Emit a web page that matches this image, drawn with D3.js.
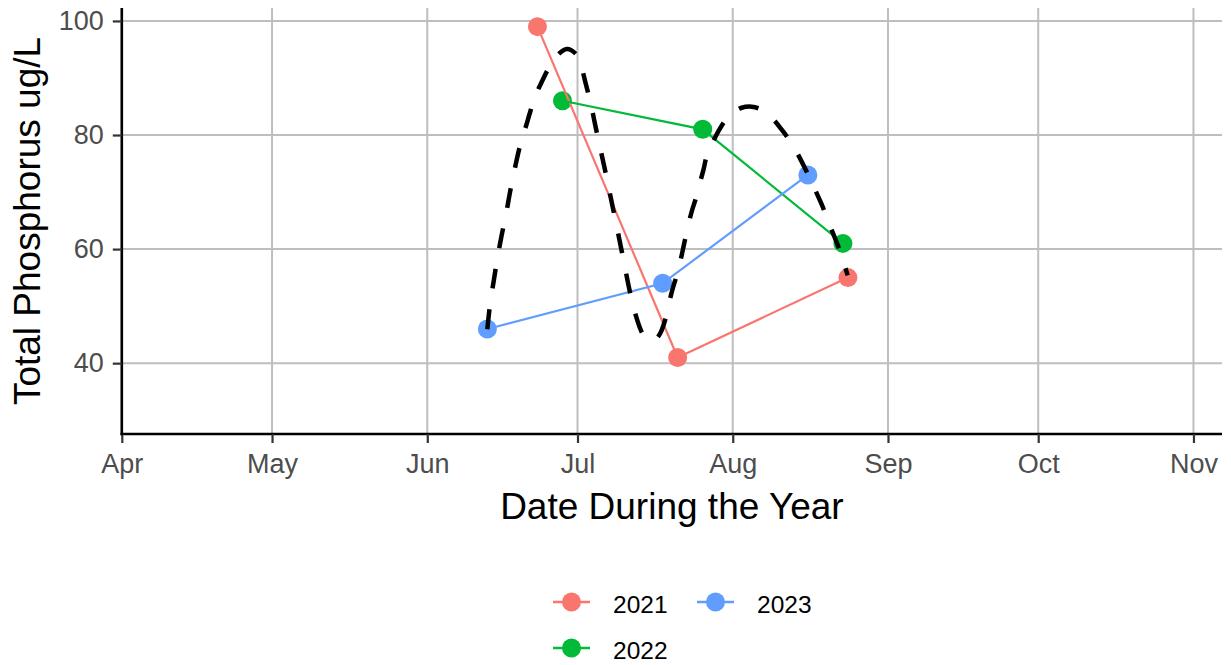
<!DOCTYPE html>
<html>
<head>
<meta charset="utf-8">
<script src="https://cdn.jsdelivr.net/npm/d3@7"></script>
<style>
  html, body { margin: 0; padding: 0; background: #fff; }
  svg { display: block; font-family: "Liberation Sans", Arial, sans-serif; }
</style>
</head>
<body>
<svg id="chart" width="1231" height="665"></svg>
<script>
// ---------------- data ----------------
const years = ["2021", "2022", "2023"];
const yearColors = ["#F8766D", "#00BA38", "#619CFF"];
const dates2021 = ["06-23", "07-21", "08-24"];
const values2021 = [99, 41, 55];
const dates2022 = ["06-28", "07-26", "08-23"];
const values2022 = [86, 81, 61];
const dates2023 = ["06-13", "07-18", "08-16"];
const values2023 = [46, 54, 73];

// fitted dashed curve (days after Apr 1, value)
const smoothDays = [72.99, 73.59, 74.29, 74.99, 75.89, 76.79, 77.58, 78.48, 79.48, 80.68,
  81.68, 82.67, 83.87, 85.27, 86.87, 88.86, 90.66, 91.66, 92.65, 93.65,
  94.65, 95.65, 96.65, 97.84, 99.04, 100.24, 101.44, 102.63, 103.83, 104.83,
  105.83, 106.83, 107.63, 108.42, 109.22, 110.02, 110.82, 111.62, 112.22, 113.01,
  113.81, 114.61, 115.41, 116.21, 116.81, 117.80, 119.20, 120.60, 122.00, 123.79,
  125.79, 127.78, 129.78, 131.78, 133.77, 135.77, 137.77, 139.76, 141.56, 143.35, 144.95];
const smoothValues = [45.95, 50.67, 54.52, 58.37, 62.57, 66.42, 70.26, 74.11, 77.96, 81.46,
  84.43, 87.06, 89.33, 91.78, 93.88, 95.10, 94.23, 92.30, 88.98, 85.48,
  81.28, 77.26, 73.24, 68.17, 63.09, 57.85, 52.60, 48.40, 45.43, 44.20,
  43.94, 44.38, 45.43, 47.35, 50.32, 53.12, 55.40, 58.19, 60.64, 63.79,
  66.59, 68.86, 71.49, 74.11, 76.39, 78.31, 80.76, 82.68, 83.91, 84.78,
  84.96, 84.43, 83.03, 80.93, 78.49, 75.34, 71.66, 67.82, 63.79, 59.77, 55.40];

const monthLabels = ["Apr", "May", "Jun", "Jul", "Aug", "Sep", "Oct", "Nov"];
const yTicks = [40, 60, 80, 100];
const yDomain = [27.58, 102.27];
const xStart = "04-01";
const xEndDays = 219.7;

const xTitle = "Date During the Year";
const yTitle = "Total Phosphorus ug/L";

// ---------------- helpers ----------------
const baseYear = 2001;
const parseMD = s => { const [m, d] = s.split("-").map(Number); return new Date(baseYear, m - 1, d); };
const start = parseMD(xStart);
const dayMs = 864e5;
const fromDays = d => new Date(start.getTime() + d * dayMs);

const series = [
  { year: years[0], color: yearColors[0], pts: dates2021.map((d, i) => ({ date: parseMD(d), v: values2021[i] })) },
  { year: years[1], color: yearColors[1], pts: dates2022.map((d, i) => ({ date: parseMD(d), v: values2022[i] })) },
  { year: years[2], color: yearColors[2], pts: dates2023.map((d, i) => ({ date: parseMD(d), v: values2023[i] })) }
];
const smooth = smoothDays.map((d, i) => ({ date: fromDays(d), v: smoothValues[i] }));

// ---------------- layout ----------------
const svg = d3.select("#chart");
const panel = { left: 121.8, right: 1222, top: 8, bottom: 434 };

const x = d3.scaleTime().domain([start, fromDays(xEndDays)]).range([panel.left, panel.right]);
const y = d3.scaleLinear().domain(yDomain).range([panel.bottom, panel.top]);

const monthTicks = monthLabels.map((m, i) => new Date(baseYear, 3 + i, 1));

// grid
const grid = svg.append("g");
grid.selectAll("line.vx").data(monthTicks).join("line")
  .attr("x1", d => x(d)).attr("x2", d => x(d))
  .attr("y1", panel.top).attr("y2", panel.bottom)
  .attr("stroke", "#BEBEBE").attr("stroke-width", 2);
grid.selectAll("line.hy").data(yTicks).join("line")
  .attr("x1", panel.left).attr("x2", panel.right)
  .attr("y1", d => y(d)).attr("y2", d => y(d))
  .attr("stroke", "#BEBEBE").attr("stroke-width", 2);

// axes
const xAxis = d3.axisBottom(x).tickValues(monthTicks)
  .tickFormat((d, i) => monthLabels[i]).tickSize(9).tickSizeOuter(0).tickPadding(11);
const gx = svg.append("g").attr("transform", `translate(0,${panel.bottom})`).call(xAxis);
gx.select(".domain").attr("stroke", "#000").attr("stroke-width", 2.6)
  .attr("d", `M${panel.left - 1.3},0H${panel.right}`);
gx.selectAll(".tick line").attr("stroke", "#333").attr("stroke-width", 2.2);
gx.selectAll(".tick text").attr("fill", "#4D4D4D").style("font-size", "27px")
  .style("font-family", "'Liberation Sans', Arial, sans-serif");

const yAxis = d3.axisLeft(y).tickValues(yTicks).tickSize(9).tickPadding(9).tickSizeOuter(0);
const gy = svg.append("g").attr("transform", `translate(${panel.left},0)`).call(yAxis);
gy.select(".domain").attr("stroke", "#000").attr("stroke-width", 2.6)
  .attr("d", `M0,${panel.top}V${panel.bottom + 1.3}`);
gy.selectAll(".tick line").attr("stroke", "#333").attr("stroke-width", 2.2);
gy.selectAll(".tick text").attr("fill", "#4D4D4D").style("font-size", "27px")
  .style("font-family", "'Liberation Sans', Arial, sans-serif");

// points (drawn first, lines over them)
const marks = svg.append("g");
series.forEach(s => {
  marks.append("g").selectAll("circle").data(s.pts).join("circle")
    .attr("cx", d => x(d.date)).attr("cy", d => y(d.v)).attr("r", 9.5)
    .attr("fill", s.color);
});
const line = d3.line().x(d => x(d.date)).y(d => y(d.v));
series.forEach(s => {
  marks.append("path").datum(s.pts).attr("d", line)
    .attr("fill", "none").attr("stroke", s.color).attr("stroke-width", 2.2);
});

// dashed fitted curve
const smoothLine = d3.line().x(d => x(d.date)).y(d => y(d.v)).curve(d3.curveCatmullRom.alpha(0.5));
svg.append("path").datum(smooth).attr("d", smoothLine)
  .attr("fill", "none").attr("stroke", "#000").attr("stroke-width", 4.5)
  .attr("stroke-dasharray", "20,21");

// titles
svg.append("text").attr("x", (panel.left + panel.right) / 2).attr("y", 519)
  .attr("text-anchor", "middle").attr("fill", "#000").style("font-size", "37px")
  .text(xTitle);
svg.append("text").attr("transform", `translate(40,${(panel.top + panel.bottom) / 2}) rotate(-90)`)
  .attr("text-anchor", "middle").attr("fill", "#000").style("font-size", "37px")
  .text(yTitle);

// legend
const legendItems = [
  { label: years[0], color: yearColors[0], kx: 553, ky: 602 },
  { label: years[2], color: yearColors[2], kx: 697, ky: 602 },
  { label: years[1], color: yearColors[1], kx: 553, ky: 648 }
];
const lg = svg.append("g");
legendItems.forEach(it => {
  lg.append("line").attr("x1", it.kx).attr("x2", it.kx + 37)
    .attr("y1", it.ky).attr("y2", it.ky)
    .attr("stroke", it.color).attr("stroke-width", 2.6);
  lg.append("circle").attr("cx", it.kx + 18.5).attr("cy", it.ky).attr("r", 9.5).attr("fill", it.color);
  lg.append("text").attr("x", it.kx + 60).attr("y", it.ky + 10.5)
    .attr("fill", "#000").style("font-size", "24.5px").text(it.label);
});
</script>
</body>
</html>
